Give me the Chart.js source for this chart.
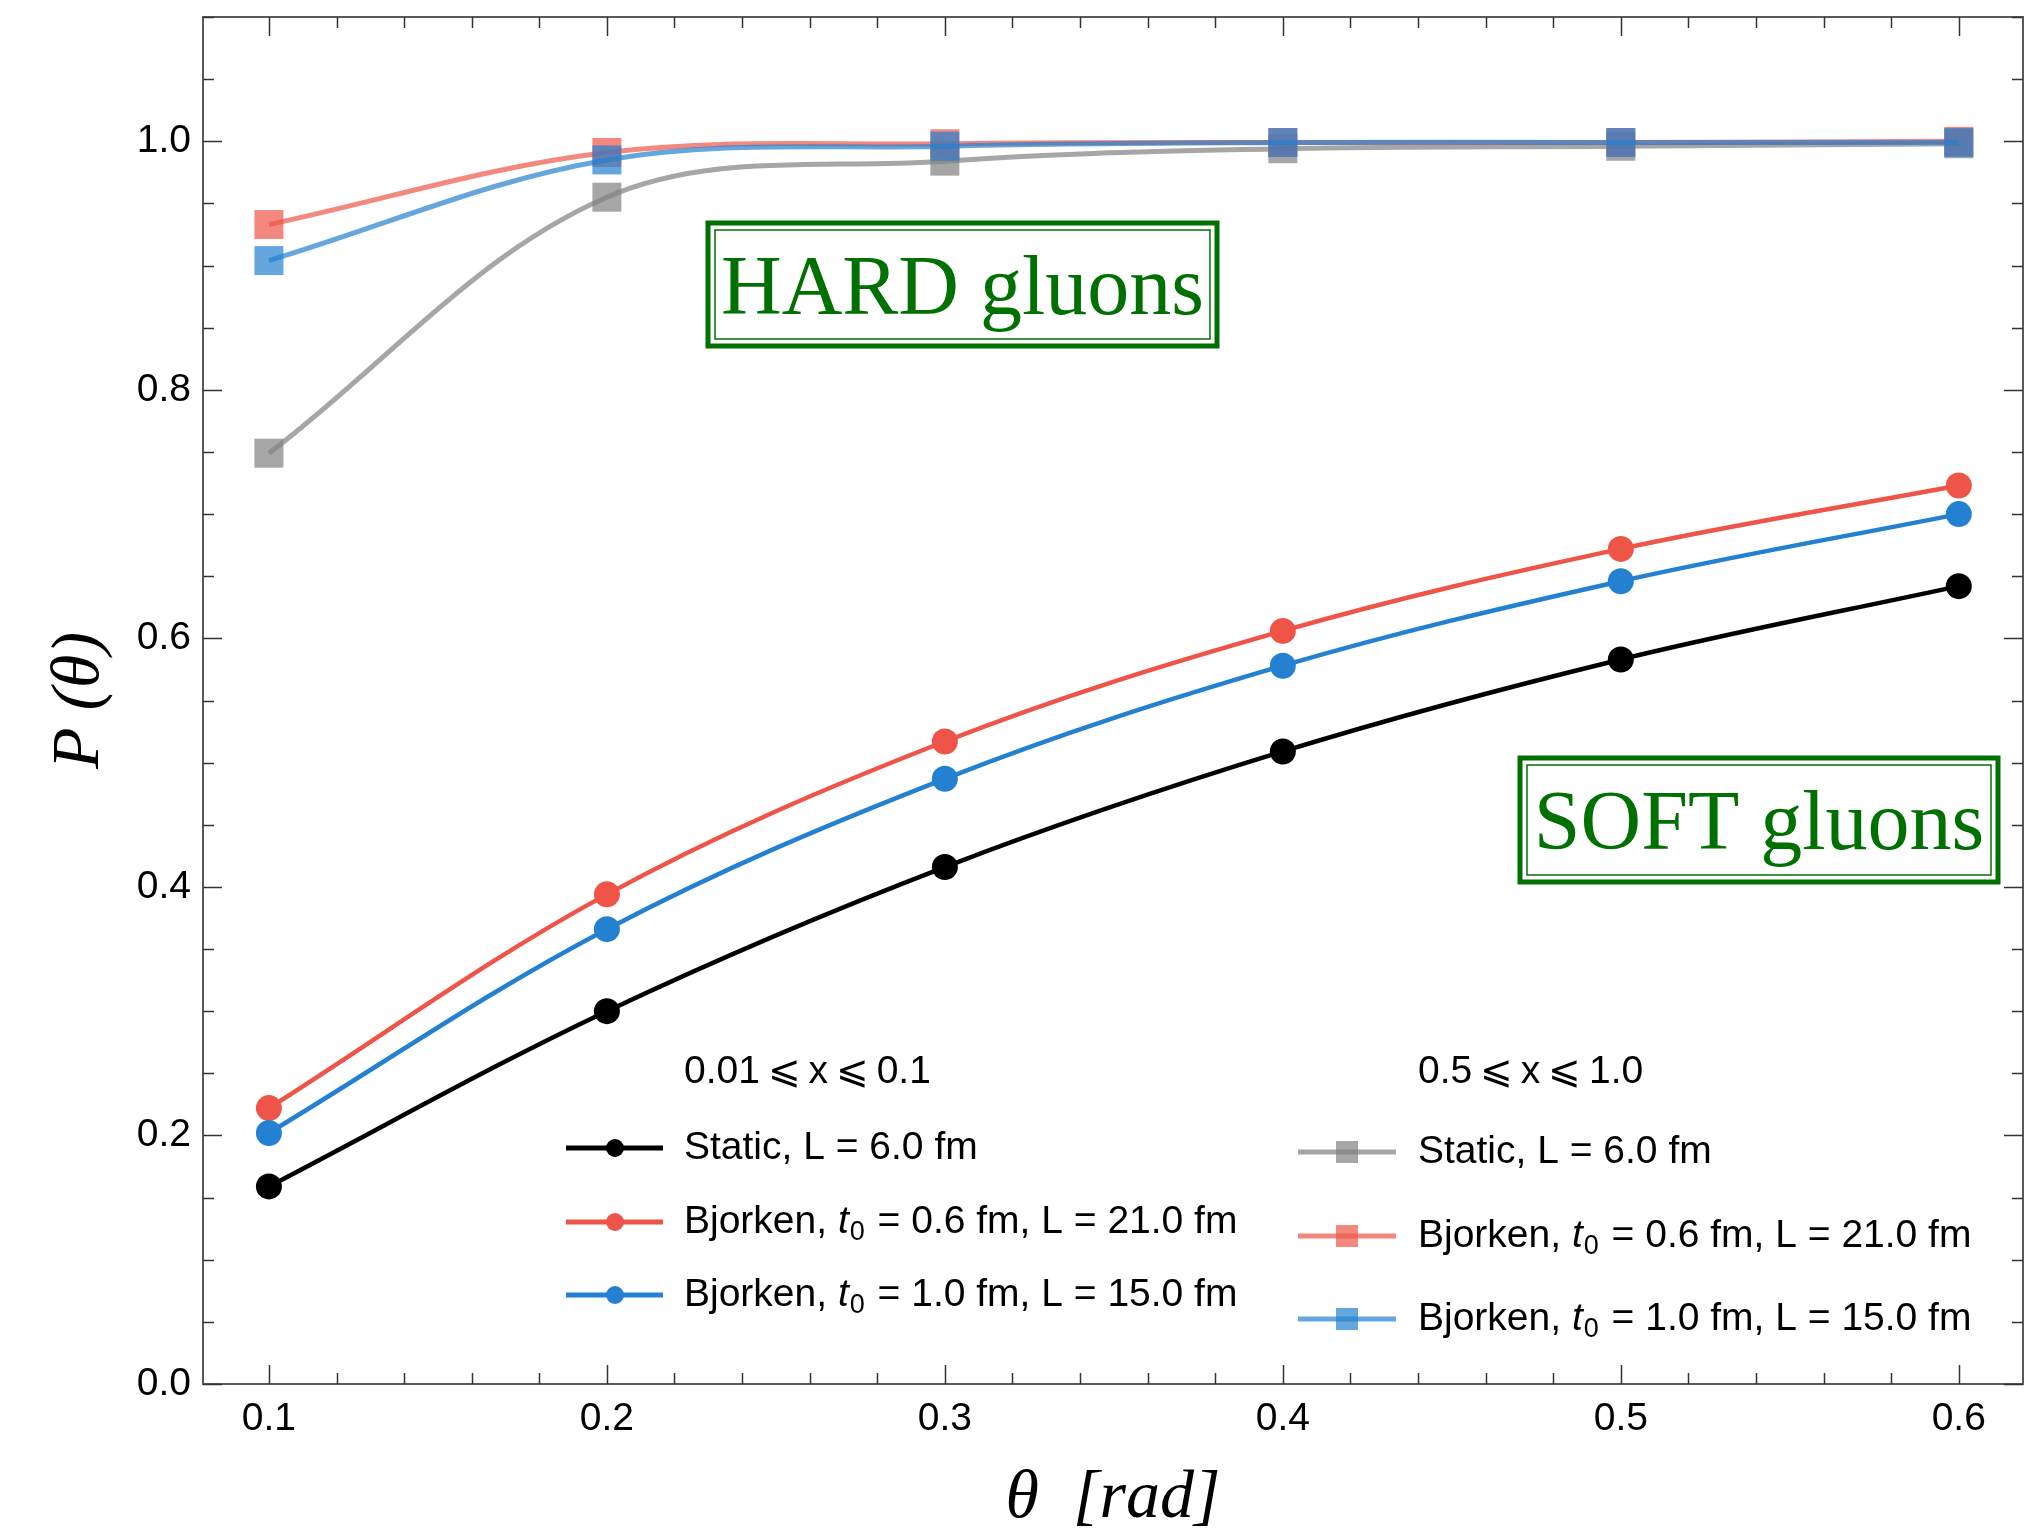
<!DOCTYPE html>
<html>
<head>
<meta charset="utf-8">
<script src="https://cdn.jsdelivr.net/npm/chart.js@4.4.1/dist/chart.umd.min.js"></script>
<style>
  body { margin: 0; background: #fff; overflow: hidden; }
  #wrap { width: 2025px; height: 1534px; }
  canvas { display: block; }
</style>
</head>
<body>
<div id="wrap"><canvas id="chart" width="2025" height="1534"></canvas></div>
<script>
// theta values (rad)
const theta = [0.1, 0.2, 0.3, 0.4, 0.5, 0.6];

// soft gluons, 0.01 <= x <= 0.1
const softStatic = [0.159, 0.300, 0.416, 0.509, 0.583, 0.642];
const softBj06 = [0.222, 0.394, 0.517, 0.606, 0.672, 0.723];
const softBj10 = [0.202, 0.366, 0.487, 0.578, 0.646, 0.700];

// hard gluons, 0.5 <= x <= 1.0
const hardStatic = [0.749, 0.955, 0.984, 0.994, 0.996, 0.998];
const hardBj06 = [0.933, 0.991, 0.998, 0.999, 0.999, 1.0];
const hardBj10 = [0.904, 0.985, 0.996, 0.999, 0.999, 0.999];

const xTicks = [0.1, 0.2, 0.3, 0.4, 0.5, 0.6];
const yTicks = [0.0, 0.2, 0.4, 0.6, 0.8, 1.0];

const BLACK = "#000000";
const RED = "rgb(238, 85, 72)";
const BLUE = "rgb(36, 128, 208)";
const RED_T = "rgba(238, 85, 72, 0.7)";
const BLUE_T = "rgba(36, 128, 208, 0.7)";
const GREY_T = "rgba(128, 128, 128, 0.7)";
const GREEN = "#007000";

const pts = (ys) => theta.map((x, i) => ({ x, y: ys[i] }));

const softSet = (label, ys, color) => ({
  label,
  data: pts(ys),
  borderColor: color,
  backgroundColor: color,
  borderWidth: 4.5,
  pointRadius: 13,
  pointStyle: "circle",
  pointBorderWidth: 0,
  tension: 0.35,
});

const hardSet = (label, ys, color) => ({
  label,
  data: pts(ys),
  borderColor: color,
  backgroundColor: color,
  borderWidth: 5,
  pointRadius: 20.5,
  pointStyle: "rect",
  pointBorderWidth: 0,
  tension: 0.35,
});

const legendLeft = [
  { color: BLACK, pre: "Static, L = 6.0 fm" },
  { color: RED, pre: "Bjorken, ", t0: true, post: " = 0.6 fm, L = 21.0 fm" },
  { color: BLUE, pre: "Bjorken, ", t0: true, post: " = 1.0 fm, L = 15.0 fm" },
];
const legendRight = [
  { color: GREY_T, pre: "Static, L = 6.0 fm" },
  { color: RED_T, pre: "Bjorken, ", t0: true, post: " = 0.6 fm, L = 21.0 fm" },
  { color: BLUE_T, pre: "Bjorken, ", t0: true, post: " = 1.0 fm, L = 15.0 fm" },
];

const SANS = "'Liberation Sans', Arial, Helvetica, sans-serif";
const SERIF = "'Liberation Serif', 'Times New Roman', serif";
const FS = 39;

function drawEntryText(ctx, x, y, e) {
  ctx.fillStyle = "#000";
  ctx.textBaseline = "middle";
  ctx.textAlign = "left";
  ctx.font = FS + "px " + SANS;
  ctx.fillText(e.pre, x, y);
  if (!e.t0) return;
  let cx = x + ctx.measureText(e.pre).width;
  ctx.font = "italic " + FS + "px " + SANS;
  ctx.fillText("t", cx, y);
  cx += ctx.measureText("t").width;
  ctx.font = "27px " + SANS;
  ctx.fillText("0", cx + 1, y + 11);
  cx += ctx.measureText("0").width + 3;
  ctx.font = FS + "px " + SANS;
  ctx.fillText(e.post, cx, y);
}

function stampBox(ctx, x0, y0, x1, y1, text, baseline) {
  ctx.save();
  ctx.strokeStyle = GREEN;
  ctx.lineWidth = 5;
  ctx.strokeRect(x0 + 3, y0 + 3, x1 - x0 - 6, y1 - y0 - 6);
  ctx.lineWidth = 1.5;
  ctx.strokeRect(x0 + 10, y0 + 10, x1 - x0 - 20, y1 - y0 - 20);
  ctx.fillStyle = GREEN;
  ctx.font = "84px " + SERIF;
  ctx.textAlign = "center";
  ctx.textBaseline = "alphabetic";
  ctx.fillText(text, (x0 + x1) / 2, baseline);
  ctx.restore();
}

const framePlugin = {
  id: "frame",
  afterDraw(chart) {
    const ctx = chart.ctx;
    const { left, right, top, bottom } = chart.chartArea;
    const xs = chart.scales.x;
    const ys = chart.scales.y;
    ctx.save();

    // frame
    ctx.strokeStyle = "#5a5a5a";
    ctx.lineWidth = 2;
    ctx.strokeRect(left, top, right - left, bottom - top);

    // ticks, inward on all sides
    ctx.strokeStyle = "#333";
    ctx.lineWidth = 1.5;
    ctx.beginPath();
    for (let v = 0.08; v <= 0.6201; v += 0.02) {
      const major = Math.abs(v * 10 - Math.round(v * 10)) < 1e-6;
      const len = major ? 19 : 11;
      const px = Math.round(xs.getPixelForValue(v)) + 0.5;
      if (px < left || px > right) continue;
      ctx.moveTo(px, bottom);
      ctx.lineTo(px, bottom - len);
      ctx.moveTo(px, top);
      ctx.lineTo(px, top + len);
    }
    for (let v = 0; v <= 1.1001; v += 0.05) {
      const major = Math.abs(v * 5 - Math.round(v * 5)) < 1e-6;
      const len = major ? 19 : 11;
      const py = Math.round(ys.getPixelForValue(v)) + 0.5;
      ctx.moveTo(left, py);
      ctx.lineTo(left + len, py);
      ctx.moveTo(right, py);
      ctx.lineTo(right - len, py);
    }
    ctx.stroke();

    // tick labels
    ctx.fillStyle = "#000";
    ctx.font = FS + "px " + SANS;
    ctx.textAlign = "center";
    ctx.textBaseline = "top";
    xTicks.forEach((v) => ctx.fillText(v.toFixed(1), xs.getPixelForValue(v), bottom + 16));
    ctx.textAlign = "right";
    ctx.textBaseline = "middle";
    yTicks.forEach((v) => ctx.fillText(v.toFixed(1), left - 12, ys.getPixelForValue(v)));

    // axis titles
    ctx.font = "italic 68px " + SERIF;
    ctx.textAlign = "center";
    ctx.textBaseline = "alphabetic";
    ctx.fillText("\u03B8  [rad]", (left + right) / 2, 1517);
    ctx.save();
    ctx.translate(98, (top + bottom) / 2);
    ctx.rotate(-Math.PI / 2);
    ctx.fillText("P (\u03B8)", 0, 0);
    ctx.restore();

    // text boxes
    stampBox(ctx, 705, 220, 1220, 349, "HARD gluons", 314);
    stampBox(ctx, 1517, 755, 2001, 885, "SOFT gluons", 849);

    // legends
    ctx.font = FS + "px " + SANS;
    ctx.textBaseline = "middle";
    ctx.textAlign = "left";
    ctx.fillStyle = "#000";
    ctx.fillText("0.01\u2009\u2A7D\u2009x\u2009\u2A7D\u20090.1", 684, 1072);
    ctx.fillText("0.5\u2009\u2A7D\u2009x\u2009\u2A7D\u20091.0", 1418, 1072);

    const leftY = [1148, 1222, 1295];
    legendLeft.forEach((e, i) => {
      const y = leftY[i];
      ctx.strokeStyle = e.color;
      ctx.lineWidth = 5;
      ctx.beginPath();
      ctx.moveTo(566, y);
      ctx.lineTo(663, y);
      ctx.stroke();
      ctx.fillStyle = e.color;
      ctx.beginPath();
      ctx.arc(615, y, 9, 0, Math.PI * 2);
      ctx.fill();
      drawEntryText(ctx, 684, y, e);
    });
    const rightY = [1152, 1236, 1319];
    legendRight.forEach((e, i) => {
      const y = rightY[i];
      ctx.strokeStyle = e.color;
      ctx.lineWidth = 5;
      ctx.beginPath();
      ctx.moveTo(1298, y);
      ctx.lineTo(1396, y);
      ctx.stroke();
      ctx.fillStyle = e.color;
      ctx.fillRect(1336, y - 11, 22, 22);
      drawEntryText(ctx, 1418, y, e);
    });
    ctx.restore();
  },
};

// Chart.js paints the first dataset on top, so the topmost series comes first
new Chart(document.getElementById("chart"), {
  type: "line",
  data: {
    datasets: [
      softSet("Bjorken 1.0 soft", softBj10, BLUE),
      softSet("Bjorken 0.6 soft", softBj06, RED),
      softSet("Static soft", softStatic, BLACK),
      hardSet("Bjorken 1.0 hard", hardBj10, BLUE_T),
      hardSet("Bjorken 0.6 hard", hardBj06, RED_T),
      hardSet("Static hard", hardStatic, GREY_T),
    ],
  },
  options: {
    responsive: false,
    animation: false,
    layout: { autoPadding: false, padding: { left: 0, right: 2, top: 17, bottom: 0 } },
    plugins: { legend: { display: false }, tooltip: { enabled: false } },
    scales: {
      x: {
        type: "linear",
        min: 0.0805,
        max: 0.619,
        grid: { display: false, drawTicks: false },
        border: { display: false },
        afterBuildTicks: (s) => { s.ticks = xTicks.map((v) => ({ value: v })); },
        afterFit: (s) => { s.height = 150; },
        ticks: { display: false },
      },
      y: {
        type: "linear",
        min: 0,
        max: 1.1,
        grid: { display: false, drawTicks: false },
        border: { display: false },
        afterBuildTicks: (s) => { s.ticks = yTicks.map((v) => ({ value: v })); },
        afterFit: (s) => { s.width = 203; },
        ticks: { display: false },
      },
    },
  },
  plugins: [framePlugin],
});
</script>
</body>
</html>
